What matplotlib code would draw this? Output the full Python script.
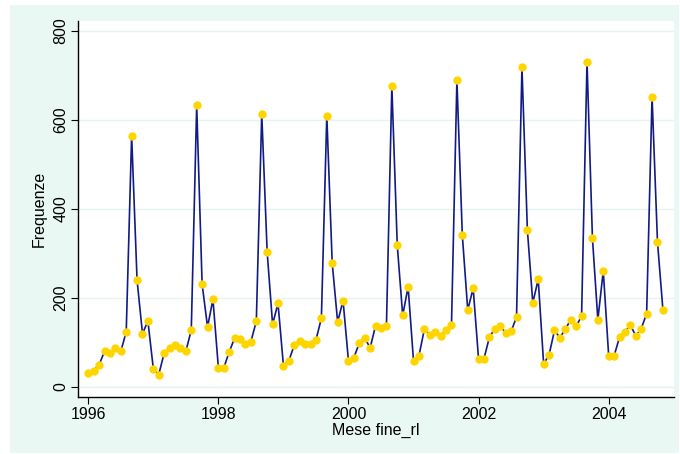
import matplotlib.pyplot as plt
import numpy as np
from matplotlib.patches import Rectangle

plt.rcParams.update({
    "font.family": ["Liberation Sans", "DejaVu Sans"],
    "font.size": 11.5,
})

# monthly counts, Jan 1996 .. Nov 2004
start_year = 1996
frequenze = [
    31, 37, 50, 80, 77, 88, 80, 124, 565, 240, 120, 148,   # 1996
    41, 28, 76, 87, 94, 88, 80, 128, 633, 231, 135, 197,   # 1997
    43, 43, 79, 110, 107, 97, 102, 148, 614, 303, 141, 188,  # 1998
    48, 59, 94, 103, 97, 97, 106, 154, 610, 278, 146, 194,   # 1999
    58, 66, 99, 110, 88, 138, 132, 136, 676, 318, 161, 225,  # 2000
    58, 70, 130, 117, 124, 114, 129, 139, 690, 341, 173, 222,  # 2001
    62, 64, 112, 131, 136, 122, 125, 157, 719, 353, 189, 242,  # 2002
    52, 72, 127, 111, 130, 151, 136, 160, 731, 335, 151, 261,  # 2003
    70, 70, 112, 124, 139, 115, 131, 165, 652, 326, 174,       # 2004
]
x_ticks = [1996, 1998, 2000, 2002, 2004]
y_ticks = [0, 200, 400, 600, 800]

months = start_year + np.arange(len(frequenze)) / 12.0

fig = plt.figure(figsize=(6.8, 4.54), dpi=100, facecolor="white")
# Stata-style mint background panel, kept behind the axes
bg = Rectangle((10 / 680, 1 / 454), 669 / 680, 448 / 454,
               transform=fig.transFigure, facecolor="#eaf8f3",
               edgecolor="none", zorder=-10)
fig.add_artist(bg)

ax = fig.add_axes([78 / 680, 57 / 454, 596 / 680, 376 / 454])
ax.set_zorder(1)
ax.set_facecolor("white")

ax.plot(months, frequenze, color="#121a85", linewidth=1.2, zorder=3,
        marker="o", markersize=6, markerfacecolor="#ffd500",
        markeredgecolor="#ffd500", markeredgewidth=0)

ax.set_xlim(1995.842, 2005.004)
ax.set_ylim(-22.5, 822.5)
ax.set_xticks(x_ticks)
ax.set_yticks(y_ticks)
ax.set_yticklabels([str(v) for v in y_ticks], rotation=90, va="center")
ax.grid(axis="y", color="#e6f4f1", linewidth=1)
ax.set_axisbelow(True)

for side in ("top", "right"):
    ax.spines[side].set_visible(False)
for side in ("left", "bottom"):
    ax.spines[side].set_color("black")
    ax.spines[side].set_linewidth(1.0)
ax.tick_params(length=5, width=0.8, color="black", pad=2)

ax.set_xlabel("Mese fine_rl", labelpad=1)
ax.set_ylabel("Frequenze", labelpad=5)

fig.savefig("out.png", dpi=100, facecolor=fig.get_facecolor())
